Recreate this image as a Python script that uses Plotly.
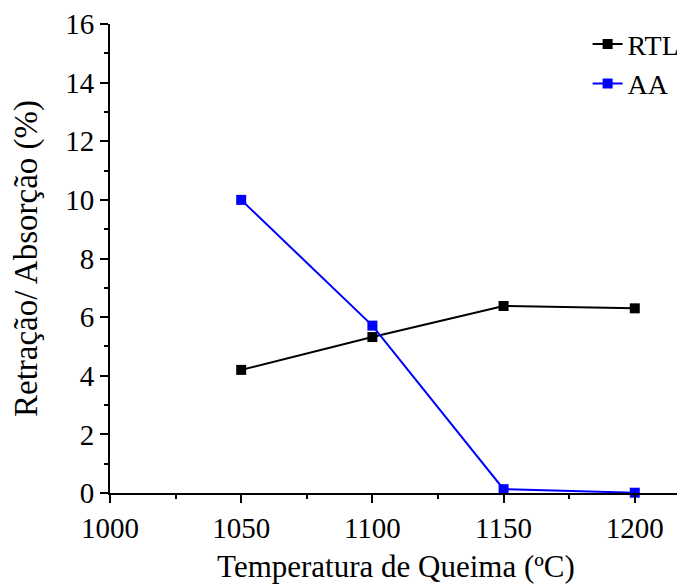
import plotly.graph_objects as go

temperatura = [1050, 1100, 1150, 1200]
rtl = [4.2, 5.32, 6.38, 6.3]
aa = [10.0, 5.71, 0.13, 0.01]
x_ticks = [1000, 1050, 1100, 1150, 1200]
y_ticks = [0, 2, 4, 6, 8, 10, 12, 14, 16]
x_minor = [1025, 1075, 1125, 1175]
y_minor = [1, 3, 5, 7, 9, 11, 13, 15]

font_family = "Liberation Serif"

fig = go.Figure()
fig.add_trace(go.Scatter(
    x=temperatura, y=rtl, name="RTL", mode="lines+markers",
    line=dict(color="black", width=2),
    marker=dict(symbol="square", size=10, color="black"),
    cliponaxis=False,
))
fig.add_trace(go.Scatter(
    x=temperatura, y=aa, name="AA", mode="lines+markers",
    line=dict(color="#0000ff", width=2),
    marker=dict(symbol="square", size=10, color="#0000ff"),
    cliponaxis=False,
))

fig.update_layout(
    width=677, height=578,
    margin=dict(l=102, r=0, t=16, b=93),
    paper_bgcolor="white", plot_bgcolor="white",
    font=dict(family=font_family, size=28, color="black"),
    showlegend=True,
    legend=dict(
        x=0.835, y=1.01, xanchor="left", yanchor="top",
        bgcolor="rgba(0,0,0,0)", font=dict(size=28),
        tracegroupgap=0, itemwidth=30,
    ),
)
fig.update_xaxes(
    range=[1000, 1218], tickvals=x_ticks, ticktext=[str(v) for v in x_ticks],
    showgrid=False, zeroline=False, showline=True, linecolor="black", linewidth=2,
    ticks="outside", ticklen=8, tickwidth=2, tickcolor="black",
    minor=dict(tickvals=x_minor, ticks="outside", ticklen=4, tickwidth=2, tickcolor="black"),
    title=dict(text="Temperatura de Queima (ºC)", font=dict(size=31), standoff=13),
    tickfont=dict(size=29),
    automargin=False,
)
fig.update_yaxes(
    range=[0, 16], tickvals=y_ticks, ticktext=[str(v) for v in y_ticks],
    showgrid=False, zeroline=False, showline=True, linecolor="black", linewidth=2,
    ticks="outside", ticklen=8, tickwidth=2, tickcolor="black",
    minor=dict(tickvals=y_minor, ticks="outside", ticklen=4, tickwidth=2, tickcolor="black"),
    title=dict(text="Retração/ Absorção (%)", font=dict(size=33), standoff=18),
    tickfont=dict(size=29),
    automargin=False,
)

fig.write_html("out.html")
